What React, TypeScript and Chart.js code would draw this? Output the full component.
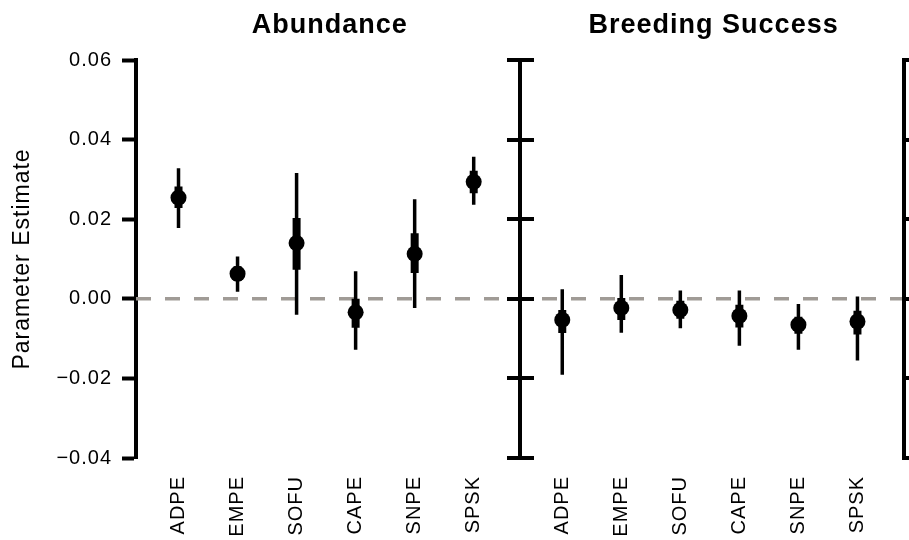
import { useEffect, useRef } from 'react';
import { Chart, registerables } from 'chart.js';

Chart.register(...registerables);

// Species codes, shared by both panels
const categories = ['ADPE', 'EMPE', 'SOFU', 'CAPE', 'SNPE', 'SPSK'];
const panelTitles = ['Abundance', 'Breeding Success'];
const yTicks = [-0.04, -0.02, 0, 0.02, 0.04, 0.06];
const referenceLevel = 0;

// Abundance: posterior mean, 95% and 50% intervals
const abundanceEst = [0.0254, 0.0063, 0.014, -0.0034, 0.0113, 0.0294];
const abundanceLo95 = [0.0178, 0.0018, -0.004, -0.0128, -0.0023, 0.0236];
const abundanceHi95 = [0.0328, 0.0106, 0.0316, 0.0069, 0.025, 0.0357];
const abundanceLo50 = [0.0228, 0.0045, 0.0073, -0.0073, 0.0065, 0.0265];
const abundanceHi50 = [0.0282, 0.0082, 0.0203, 0.0, 0.0165, 0.0322];

// Breeding success: posterior mean, 95% and 50% intervals
const breedingEst = [-0.0053, -0.0023, -0.0028, -0.0043, -0.0065, -0.0057];
const breedingLo95 = [-0.0191, -0.0085, -0.0074, -0.0118, -0.0128, -0.0155];
const breedingHi95 = [0.0024, 0.006, 0.0021, 0.0021, -0.0013, 0.0006];
const breedingLo50 = [-0.0086, -0.0053, -0.005, -0.0072, -0.0088, -0.009];
const breedingHi50 = [-0.0028, 0.0002, -0.0005, -0.0015, -0.0045, -0.003];

const estimates = [abundanceEst, breedingEst];
const lo95 = [abundanceLo95, breedingLo95];
const hi95 = [abundanceHi95, breedingHi95];
const lo50 = [abundanceLo50, breedingLo50];
const hi50 = [abundanceHi50, breedingHi50];

// Panel geometry on the shared x scale (category i of panel p sits at 1 + i + p * PANEL_SPAN)
const PANEL_START = 0.28;
const PANEL_SPAN = 6.5;
const X_MAX = 13.373;

const FONT = '"Liberation Sans", Helvetica, Arial, sans-serif';
const INK = '#000000';

const xPos = (panel: number, i: number) => 1 + i + panel * PANEL_SPAN;

const xTickValues: number[] = [];
const xTickLabels: string[] = [];
panelTitles.forEach((_, p) =>
  categories.forEach((c, i) => {
    xTickValues.push(xPos(p, i));
    xTickLabels.push(c);
  })
);

function intervalSegments(lo: number[][], hi: number[][]) {
  const pts: { x: number; y: number | null }[] = [];
  panelTitles.forEach((_, p) =>
    categories.forEach((__, i) => {
      const x = xPos(p, i);
      pts.push({ x, y: lo[p][i] }, { x, y: hi[p][i] }, { x, y: null });
    })
  );
  return pts;
}

function pointData() {
  const pts: { x: number; y: number }[] = [];
  panelTitles.forEach((_, p) =>
    categories.forEach((__, i) => pts.push({ x: xPos(p, i), y: estimates[p][i] }))
  );
  return pts;
}

const formatTick = (v: number) => {
  const s = Math.abs(v).toFixed(2);
  return v < -1e-9 ? '\u2212' + s : s;
};

// Slightly wider letter spacing for all chart text
const spacingPlugin = {
  id: 'letterSpacing',
  beforeUpdate(chart: any) {
    chart.ctx.letterSpacing = '1px';
  },
  beforeDraw(chart: any) {
    chart.ctx.letterSpacing = '1px';
  },
};

// Axes of the following panels and the panel titles
const panelPlugin = {
  id: 'panels',
  afterDatasetsDraw(chart: any) {
    const { ctx } = chart;
    const xs = chart.scales.x;
    const ys = chart.scales.y;
    const yTop = ys.getPixelForValue(yTicks[yTicks.length - 1]);
    const yBottom = ys.getPixelForValue(yTicks[0]);
    ctx.save();
    ctx.strokeStyle = INK;
    ctx.lineWidth = 4;
    ctx.lineCap = 'butt';
    [1, 2].forEach((k) => {
      const x = Math.round(xs.getPixelForValue(PANEL_START + k * PANEL_SPAN));
      ctx.beginPath();
      ctx.moveTo(x, yTop - 2);
      ctx.lineTo(x, yBottom + 2);
      yTicks.forEach((t) => {
        const y = Math.round(ys.getPixelForValue(t));
        ctx.moveTo(k === 1 ? x - 13 : x, y);
        ctx.lineTo(x + 14, y);
      });
      ctx.stroke();
    });
    ctx.restore();
  },
  afterDraw(chart: any) {
    const { ctx } = chart;
    const xs = chart.scales.x;
    ctx.save();
    ctx.letterSpacing = '1px';
    ctx.font = `bold 27px ${FONT}`;
    ctx.fillStyle = INK;
    ctx.textAlign = 'center';
    ctx.textBaseline = 'alphabetic';
    panelTitles.forEach((t, p) => {
      const cx = xs.getPixelForValue(PANEL_START + p * PANEL_SPAN + PANEL_SPAN / 2);
      ctx.fillText(t, cx + 2, 33);
    });
    ctx.restore();
  },
};

export default function App() {
  const canvasRef = useRef<HTMLCanvasElement | null>(null);

  useEffect(() => {
    const canvas = canvasRef.current;
    if (!canvas) return;
    const chart = new Chart(canvas, {
      type: 'scatter',
      data: {
        datasets: [
          {
            label: 'Estimate',
            data: pointData(),
            showLine: false,
            pointRadius: 8,
            pointBackgroundColor: INK,
            pointBorderWidth: 0,
            pointHoverRadius: 8,
          },
          {
            label: '50% interval',
            data: intervalSegments(lo50, hi50),
            showLine: true,
            spanGaps: false,
            borderColor: INK,
            borderWidth: 8,
            pointRadius: 0,
            pointHoverRadius: 0,
          },
          {
            label: '95% interval',
            data: intervalSegments(lo95, hi95),
            showLine: true,
            spanGaps: false,
            borderColor: INK,
            borderWidth: 3.5,
            pointRadius: 0,
            pointHoverRadius: 0,
          },
          {
            label: 'Zero',
            data: [
              { x: PANEL_START, y: referenceLevel },
              { x: PANEL_START + 2 * PANEL_SPAN, y: referenceLevel },
            ],
            showLine: true,
            borderColor: '#a09b96',
            borderWidth: 3.5,
            borderDash: [15, 14],
            pointRadius: 0,
            pointHoverRadius: 0,
          },
        ],
      },
      options: {
        animation: false,
        responsive: false,
        devicePixelRatio: 1,
        events: [],
        layout: { autoPadding: false, padding: { top: 60, left: 0, right: 0, bottom: 0 } },
        plugins: {
          legend: { display: false },
          tooltip: { enabled: false },
          title: { display: false },
        },
        scales: {
          x: {
            type: 'linear',
            min: PANEL_START,
            max: X_MAX,
            afterBuildTicks: (s: any) => {
              s.ticks = xTickValues.map((v) => ({ value: v }));
            },
            afterFit: (s: any) => {
              s.height = 82;
              s.paddingLeft = 0;
              s.paddingRight = 0;
            },
            grid: { display: false, drawTicks: false },
            border: { display: false },
            ticks: {
              autoSkip: false,
              minRotation: 90,
              maxRotation: 90,
              padding: 18,
              color: INK,
              font: { family: FONT, size: 20 },
              callback: (_v: any, i: number) => xTickLabels[i],
            },
          },
          y: {
            type: 'linear',
            min: yTicks[0],
            max: yTicks[yTicks.length - 1],
            afterBuildTicks: (s: any) => {
              s.ticks = yTicks.map((v) => ({ value: v }));
            },
            afterFit: (s: any) => {
              s.width = 136;
            },
            grid: {
              drawOnChartArea: false,
              drawTicks: true,
              tickLength: 14,
              tickWidth: 4,
              tickColor: INK,
            },
            border: { display: true, width: 4, color: INK },
            ticks: {
              padding: 10,
              color: INK,
              font: { family: FONT, size: 20 },
              callback: (v: any) => formatTick(Number(v)),
            },
            title: {
              display: true,
              text: 'Parameter Estimate',
              color: INK,
              font: { family: FONT, size: 23 },
              padding: { top: 9, bottom: 0 },
            },
          },
        },
      },
      plugins: [spacingPlugin, panelPlugin],
    });
    return () => chart.destroy();
  }, []);

  return (
    <div
      style={{
        position: 'absolute',
        left: 0,
        top: 0,
        width: 909,
        height: 540,
        background: '#ffffff',
        overflow: 'hidden',
      }}
    >
      <canvas ref={canvasRef} width={909} height={540} style={{ display: 'block' }} />
    </div>
  );
}
